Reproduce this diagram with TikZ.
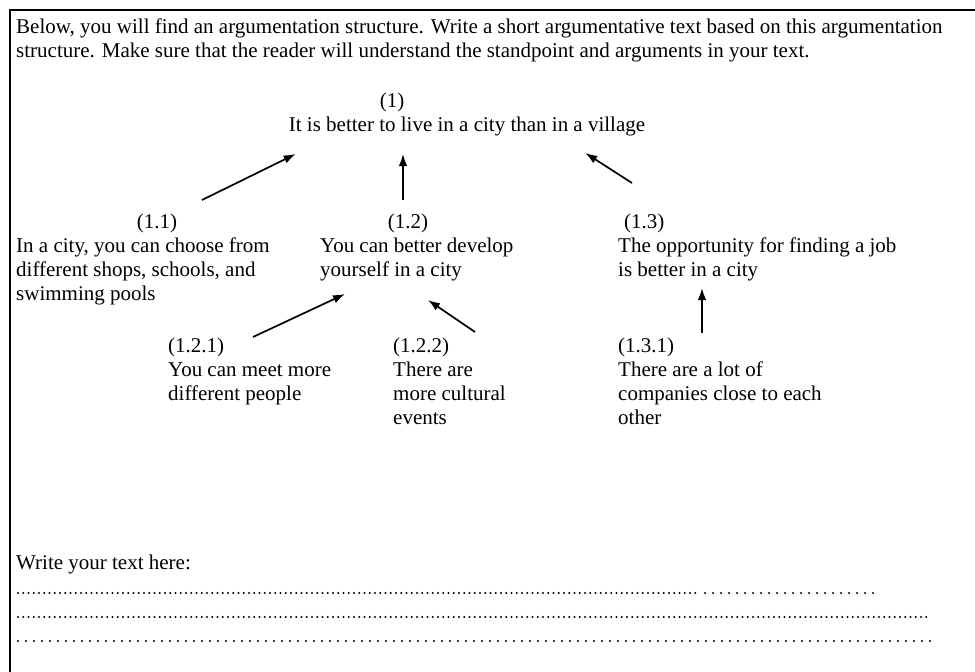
\documentclass[tikz,border=0pt]{standalone}
\usepackage{fontspec}
\setmainfont{Liberation Serif}
\usetikzlibrary{arrows.meta,positioning}
\tikzset{
    sheet/.style={x=1pt,y=-1pt,>={Latex[length=12pt,width=8.5pt]},
                  every node/.style={inner sep=0pt,font=\fontsize{21}{24}\selectfont}},
    claim/.style={anchor=base west,align=left},
    num/.style={anchor=base},
    support/.style={->,line width=1.7pt},
    writeline/.style={line width=2.4pt,line cap=round,dash pattern=on 0pt off 5.25pt},
    }
\begin{document}
\begin{tikzpicture}[sheet]
    \useasboundingbox (0,0) rectangle (975,672);
    \draw[line width=1.6pt] (10,672) -- (10,10) -- (975,10);

    % multi-line nodes sit on their last line
    \node[claim] (intro) at (16,57) {Below, you will find an argumentation structure. Write a short argumentative text based on this argumentation\\structure. Make sure that the reader will understand the standpoint and arguments in your text.};

    % standpoint
    \node[num] (n1) at (392,107) {(1)};
    \node[num] (c1) at (467,131) {It is better to live in a city than in a village};

    % main arguments
    \node[num] (n11) at (157,228) {(1.1)};
    \node[claim] (c11) at (16,300) {In a city, you can choose from\\different shops, schools, and\\swimming pools};
    \node[num] (n12) at (408,228) {(1.2)};
    \node[claim] (c12) at (320,276) {You can better develop\\yourself in a city};
    \node[claim] (n13) at (624,228) {(1.3)};
    \node[claim] (c13) at (618,276) {The opportunity for finding a job\\is better in a city};

    % subordinate arguments
    \node[claim] (n121) at (168,352) {(1.2.1)};
    \node[claim] (c121) at (168,400) {You can meet more\\different people};
    \node[claim] (n122) at (393,352) {(1.2.2)};
    \node[claim] (c122) at (393,424) {There are\\more cultural\\events};
    \node[claim] (n131) at (618,352) {(1.3.1)};
    \node[claim] (c131) at (618,424) {There are a lot of\\companies close to each\\other};

    \draw[support] ([xshift=45pt,yshift=28pt]n11.base) -- ([xshift=7pt,yshift=-23pt]c1.base west);
    \draw[support] ([xshift=-5pt,yshift=28pt]n12.base) -- ([xshift=-64pt,yshift=-23pt]c1.base);
    \draw[support] ([xshift=8pt,yshift=45pt]n13.base west) -- ([xshift=-60pt,yshift=-22pt]c1.base east);
    \draw[support] ([xshift=85pt,yshift=15pt]n121.base west) -- ([xshift=25pt,yshift=-18pt]c12.base west);
    \draw[support] ([xshift=82pt,yshift=20pt]n122.base west) -- ([xshift=108pt,yshift=-24pt]c12.base west);
    \draw[support] ([xshift=84pt,yshift=19pt]n131.base west) -- ([xshift=84pt,yshift=-12pt]c13.base west);

    % answer lines
    \node[claim] (task) at (16,569) {Write your text here:};
    \draw[writeline] (18,593) -- (697,593);
    \draw[writeline,dash pattern=on 0pt off 8pt] (705,593) -- (878,593);
    \draw[writeline] (18,617) -- (930,617);
    \draw[writeline,dash pattern=on 0pt off 8pt] (18,641) -- (935,641);
\end{tikzpicture}
\end{document}
